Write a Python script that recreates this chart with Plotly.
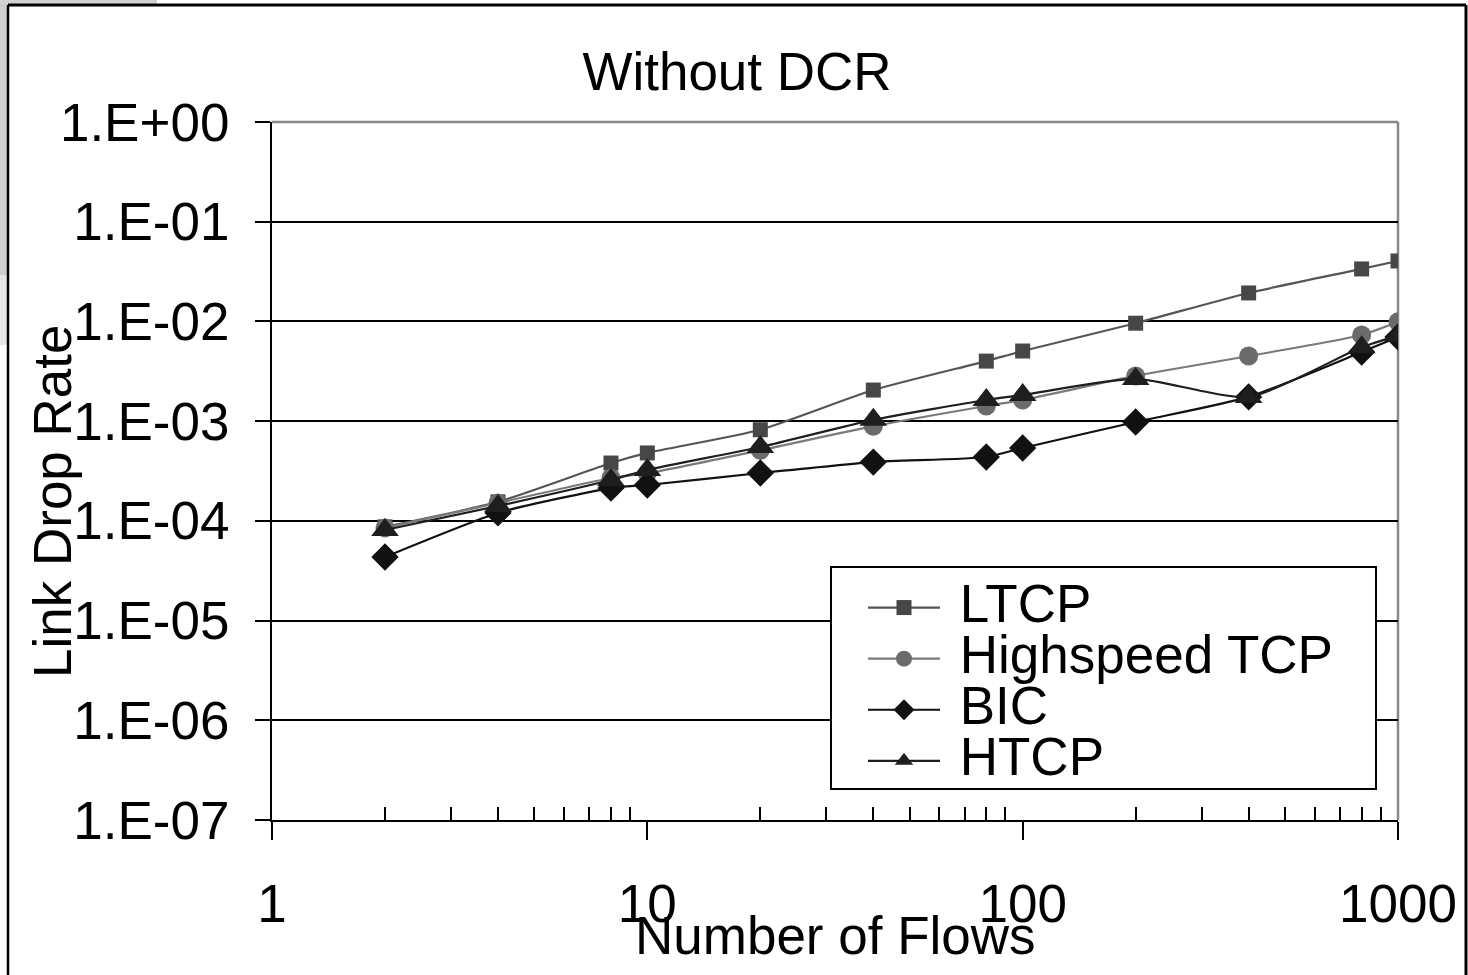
import plotly.graph_objects as go

flows = [2, 4, 8, 10, 20, 40, 80, 100, 200, 400, 800, 1000]

ltcp = [8.7e-5, 1.55e-4, 3.8e-4, 4.8e-4, 8.2e-4, 2.05e-3, 4.0e-3, 5.05e-3, 9.6e-3, 1.93e-2, 3.36e-2, 4.04e-2]
highspeed = [8.5e-5, 1.51e-4, 2.69e-4, 3.0e-4, 5.1e-4, 8.9e-4, 1.42e-3, 1.63e-3, 2.84e-3, 4.5e-3, 7.3e-3, 9.9e-3]
bic = [4.34e-5, 1.2e-4, 2.13e-4, 2.29e-4, 3.02e-4, 3.89e-4, 4.37e-4, 5.38e-4, 9.8e-4, 1.75e-3, 4.93e-3, 6.98e-3]
htcp = [8.1e-5, 1.41e-4, 2.57e-4, 3.24e-4, 5.5e-4, 1.03e-3, 1.63e-3, 1.83e-3, 2.65e-3, 1.75e-3, 5.5e-3, 7.2e-3]

series_names = ["LTCP", "Highspeed TCP", "BIC", "HTCP"]
y_tickvals = [1e-7, 1e-6, 1e-5, 1e-4, 1e-3, 1e-2, 1e-1, 1e0]
y_ticktext = ["1.E-07", "1.E-06", "1.E-05", "1.E-04", "1.E-03", "1.E-02", "1.E-01", "1.E+00"]
x_tickvals = [1, 10, 100, 1000]
x_ticktext = ["1", "10", "100", "1000"]
x_minor = [m * d for d in (1, 10, 100) for m in range(2, 10)]

FONT = "Liberation Sans, Arial, sans-serif"
FS = 53

styles = [
    dict(symbol="square", size=15, mcolor="#474747", lcolor="#555555"),
    dict(symbol="circle", size=19, mcolor="#6b6b6b", lcolor="#7a7a7a"),
    dict(symbol="diamond", size=21, mcolor="#111111", lcolor="#111111"),
    dict(symbol="triangle-up", size=24, mcolor="#1e1e1e", lcolor="#1e1e1e"),
]

fig = go.Figure()
for name, vals, st in zip(series_names, [ltcp, highspeed, bic, htcp], styles):
    fig.add_trace(go.Scatter(
        x=flows, y=vals, mode="lines+markers",
        name="<span style='font-size:%dpx'>\u00a0%s</span>" % (FS, name),
        line=dict(color=st["lcolor"], width=2.2, shape="spline", smoothing=0.6),
        marker=dict(symbol=st["symbol"], size=st["size"], color=st["mcolor"],
                    line=dict(width=0)),
    ))

W, H = 1468, 975
L, R, T, B = 272, 1398, 122, 820


def px(xp):
    return (xp - L) / (R - L)


def py(yp):
    return (B - yp) / (B - T)


shapes = [
    # screenshot artefacts: grey strips at top-left
    dict(type="rect", xref="paper", yref="paper", x0=px(0), x1=px(8), y0=py(275), y1=py(0),
         fillcolor="#cfcfcf", line=dict(width=0), layer="below"),
    dict(type="rect", xref="paper", yref="paper", x0=px(0), x1=px(8), y0=py(345), y1=py(275),
         fillcolor="#e6e6e6", line=dict(width=0), layer="below"),
    dict(type="rect", xref="paper", yref="paper", x0=px(0), x1=px(157), y0=py(4), y1=py(0),
         fillcolor="#d2d2d2", line=dict(width=0), layer="below"),
    # outer black frame
    dict(type="line", xref="paper", yref="paper", x0=px(8), x1=px(1466), y0=py(5), y1=py(5),
         line=dict(color="black", width=3)),
    dict(type="line", xref="paper", yref="paper", x0=px(8), x1=px(8), y0=py(5), y1=py(980),
         line=dict(color="black", width=2.5)),
    dict(type="line", xref="paper", yref="paper", x0=px(1466), x1=px(1466), y0=py(5), y1=py(980),
         line=dict(color="black", width=3)),
    # plot area grey top and right border
    dict(type="line", xref="paper", yref="paper", x0=0, x1=1, y0=1, y1=1,
         line=dict(color="#888888", width=2.5)),
    dict(type="line", xref="paper", yref="paper", x0=1, x1=1, y0=0, y1=1,
         line=dict(color="#888888", width=2.5), layer="below"),
    # legend box
    dict(type="rect", xref="paper", yref="paper", x0=px(831), x1=px(1376), y0=py(789), y1=py(567),
         fillcolor="white", line=dict(color="black", width=2), layer="above"),
]

annotations = [
    dict(text="Number of Flows", xref="paper", yref="paper",
         x=0.5, y=py(935), xanchor="center", yanchor="middle",
         showarrow=False, font=dict(family=FONT, size=FS, color="black")),
    dict(text="Link Drop Rate", xref="paper", yref="paper",
         x=px(52), y=py(501), xanchor="center", yanchor="middle",
         textangle=-90, showarrow=False, font=dict(family=FONT, size=FS, color="black")),
]

fig.update_layout(
    width=W, height=H,
    margin=dict(l=L, r=W - R, t=T, b=H - B, pad=0),
    paper_bgcolor="white", plot_bgcolor="white",
    font=dict(family=FONT, color="black", size=FS),
    title=dict(text="Without DCR", x=737 / W, xref="container", xanchor="center",
               y=1 - 71 / H, yref="container", yanchor="middle",
               font=dict(family=FONT, size=FS, color="black")),
    showlegend=True,
    legend=dict(x=px(863), y=py(577), xanchor="left", yanchor="top",
                bgcolor="rgba(0,0,0,0)", borderwidth=0,
                font=dict(family=FONT, size=37, color="black"),
                itemwidth=72, tracegroupgap=0),
    shapes=shapes,
    annotations=annotations,
)

fig.update_xaxes(
    type="log", range=[0, 3],
    tickmode="array", tickvals=x_tickvals, ticktext=x_ticktext,
    ticks="outside", ticklen=18, tickwidth=2, tickcolor="black",
    ticklabelstandoff=18,
    showline=True, linecolor="black", linewidth=2,
    showgrid=False, zeroline=False,
    tickfont=dict(family=FONT, size=FS, color="black"),
    minor=dict(tickmode="array", tickvals=x_minor, ticks="inside", ticklen=13,
               tickwidth=1.5, tickcolor="black", showgrid=False),
)
fig.update_yaxes(
    type="log", range=[-7, 0],
    tickmode="array", tickvals=y_tickvals, ticktext=y_ticktext,
    ticks="outside", ticklen=15, tickwidth=2, tickcolor="black",
    ticklabelstandoff=15,
    showline=True, linecolor="black", linewidth=2,
    showgrid=True, gridcolor="black", gridwidth=2, zeroline=False,
    tickfont=dict(family=FONT, size=FS, color="black"),
)

fig.write_html("out.html")
